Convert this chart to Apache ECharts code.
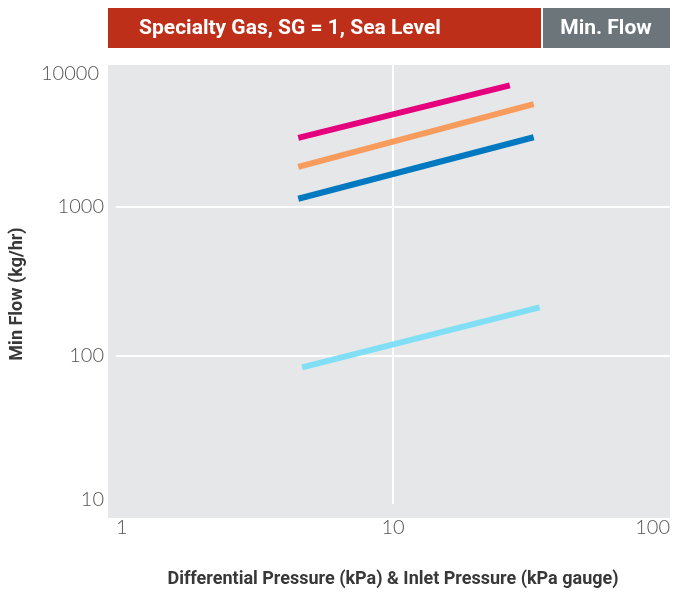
<!DOCTYPE html>
<html><head><meta charset="utf-8">
<script src="https://cdn.jsdelivr.net/npm/echarts@6/dist/echarts.min.js"></script>
<style>html,body{margin:0;padding:0;background:#fff}#c{width:687px;height:593px}</style>
</head><body><div id="c"></div>
<script>
var titleText = 'Specialty Gas, SG = 1, Sea Level';
var tagText = 'Min. Flow';
var xName = 'Differential Pressure (kPa) & Inlet Pressure (kPa gauge)';
var yName = 'Min Flow (kg/hr)';
var magenta = [[4.55, 2900], [26.4, 6550]];
var orange  = [[4.55, 1850], [32.2, 4900]];
var blue    = [[4.55, 1130], [32.2, 2930]];
var cyan    = [[4.7, 83],    [33.8, 210]];
var colors = ['#E5007D', '#F89C5E', '#0079C1', '#80DFF5'];

var chart = echarts.init(document.getElementById('c'));
var tickFont = {fontFamily: 'Lato', fontSize: 20, color: '#555', fontWeight: 300};
function ser(d, c) {
  return {type: 'line', data: d, symbol: 'none', lineStyle: {color: c, width: 6, cap: 'butt'}, z: 5};
}
var headFont = 'bold 21px Roboto, sans-serif';
chart.setOption({
  animation: false,
  grid: {left: 108, right: 17, top: 58, bottom: 79},
  graphic: [
    {type: 'rect', z: -100, shape: {x: 108, y: 65, width: 562, height: 453}, style: {fill: '#E6E7E9'}},
    {type: 'rect', shape: {x: 108, y: 8, width: 433, height: 40}, style: {fill: '#BE2F1A'}},
    {type: 'rect', shape: {x: 543, y: 8, width: 127, height: 40}, style: {fill: '#6B757A'}},
    {type: 'text', style: {x: 290, y: 29, text: titleText, fill: '#fff', font: headFont, textAlign: 'center', textVerticalAlign: 'middle'}},
    {type: 'text', style: {x: 606, y: 29, text: tagText, fill: '#fff', font: headFont, textAlign: 'center', textVerticalAlign: 'middle'}}
  ],
  xAxis: {
    type: 'log', logBase: 10, min: 1, max: 100,
    name: xName, nameLocation: 'middle', nameGap: 66,
    nameTextStyle: {fontFamily: 'Roboto', fontWeight: 'bold', fontSize: 18, color: '#383838'},
    axisLine: {show: false}, axisTick: {show: false},
    axisLabel: Object.assign({margin: 14, alignMinLabel: 'left', alignMaxLabel: 'right',
      formatter: function (v) { return String(Math.round(v)); }}, tickFont),
    splitLine: {show: true, showMinLine: false, showMaxLine: false, lineStyle: {color: '#fff', width: 2}},
    minorSplitLine: {show: false}
  },
  yAxis: {
    type: 'log', logBase: 10, min: 10, max: 10000,
    name: yName, nameLocation: 'middle', nameGap: 90,
    nameTextStyle: {fontFamily: 'Roboto', fontWeight: 'bold', fontSize: 18, color: '#383838', padding: [0, 26, 0, 0]},
    axisLine: {show: false}, axisTick: {show: false},
    axisLabel: Object.assign({margin: 12,
      formatter: function (v) {
        var r = Math.round(v);
        if (r === 10000) return '{t|' + r + '}';
        if (r === 10) return '{b|' + r + '}';
        return String(r);
      },
      rich: {
        t: {fontFamily: 'Lato', fontSize: 20, color: '#555', fontWeight: 300, padding: [32, 5, 0, 0]},
        b: {fontFamily: 'Lato', fontSize: 20, color: '#555', fontWeight: 300, padding: [0, 0, 9, 0]}
      }
    }, tickFont),
    splitLine: {show: true, showMinLine: false, showMaxLine: false, lineStyle: {color: '#fff', width: 2}}
  },
  series: [ser(magenta, colors[0]), ser(orange, colors[1]), ser(blue, colors[2]), ser(cyan, colors[3])]
});
</script></body></html>
